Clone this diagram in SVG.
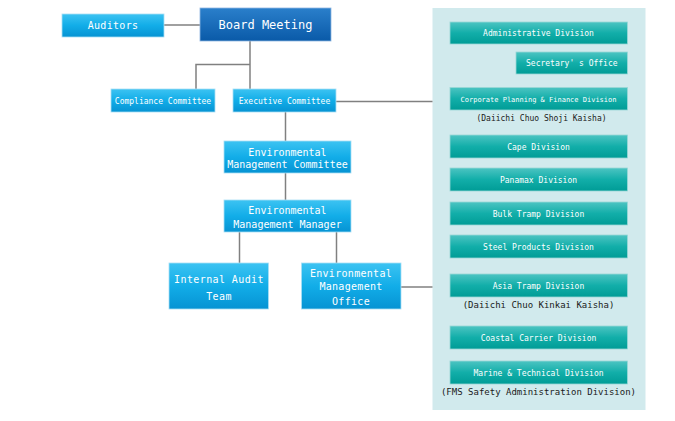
<svg xmlns="http://www.w3.org/2000/svg" width="675" height="421" viewBox="0 0 675 421">
<defs>
<linearGradient id="gBlue" x1="0" y1="0" x2="0" y2="1">
<stop offset="0" stop-color="#3cc3f2"/><stop offset="0.5" stop-color="#12ade8"/><stop offset="1" stop-color="#0693d3"/>
</linearGradient>
<linearGradient id="gDark" x1="0" y1="0" x2="0" y2="1">
<stop offset="0" stop-color="#2a7fcb"/><stop offset="1" stop-color="#0a5aa8"/>
</linearGradient>
<linearGradient id="gTeal" x1="0" y1="0" x2="0" y2="1">
<stop offset="0" stop-color="#4cc4c2"/><stop offset="0.5" stop-color="#12aea9"/><stop offset="1" stop-color="#009c96"/>
</linearGradient>
<style>
.b{fill:url(#gBlue);stroke:#a9dff5;stroke-width:0.8}
.d{fill:url(#gDark);stroke:#8fb6e0;stroke-width:0.8}
.t{fill:url(#gTeal);stroke:#9ad8d6;stroke-width:0.8}
text{font-family:"DejaVu Sans Mono","Liberation Mono",monospace;fill:#ffffff;text-anchor:middle}
.s{fill:#1a1a1a}
.ln{stroke:#808080;stroke-width:1.5;fill:none}
</style>
</defs>
<rect x="432.5" y="8" width="213" height="402" fill="#d1eaed"/>
<g id="connectors">
<line class="ln" x1="164" y1="25" x2="200" y2="25"/>
<polyline class="ln" points="250,41 250,89"/>
<polyline class="ln" points="250,64.5 196,64.5 196,89"/>
<line class="ln" x1="336" y1="101.5" x2="432.5" y2="101.5"/>
<line class="ln" x1="285.5" y1="112" x2="285.5" y2="141"/>
<line class="ln" x1="285.5" y1="173" x2="285.5" y2="200"/>
<line class="ln" x1="239.5" y1="232" x2="239.5" y2="263"/>
<line class="ln" x1="336.5" y1="232" x2="336.5" y2="263"/>
<line class="ln" x1="401" y1="287" x2="432.5" y2="287"/>
</g>
<g id="auditors"><rect class="b" x="62" y="14" width="102" height="23"/><text x="113" y="28.6" font-size="10" letter-spacing="0.3">Auditors</text></g>
<g id="board"><rect class="d" x="200" y="8" width="131" height="33"/><text x="265.5" y="29" font-size="12" letter-spacing="0">Board Meeting</text></g>
<g id="compliance"><rect class="b" x="111" y="89" width="104" height="23"/><text x="163" y="104.3" font-size="8">Compliance Committee</text></g>
<g id="executive"><rect class="b" x="233" y="89" width="103" height="23"/><text x="284.5" y="104.3" font-size="8">Executive Committee</text></g>
<g id="emc"><rect class="b" x="224" y="141" width="127" height="32"/><text x="287.5" y="155.8" font-size="10">Environmental</text><text x="287.5" y="167.8" font-size="10">Management Committee</text></g>
<g id="emm"><rect class="b" x="224" y="200" width="127" height="32"/><text x="287.5" y="213.8" font-size="10">Environmental</text><text x="287.5" y="228" font-size="10">Management Manager</text></g>
<g id="iat"><rect class="b" x="169" y="263" width="99.5" height="46"/><text x="219" y="283" font-size="10" letter-spacing="0.4">Internal Audit</text><text x="219" y="300.4" font-size="10" letter-spacing="0.4">Team</text></g>
<g id="emo"><rect class="b" x="301.5" y="263" width="99.5" height="46"/><text x="351" y="277" font-size="10" letter-spacing="0.3">Environmental</text><text x="351" y="289.7" font-size="10" letter-spacing="0.3">Management</text><text x="351" y="305.3" font-size="10" letter-spacing="0.3">Office</text></g>
<g id="admin"><rect class="t" x="450" y="22" width="177.5" height="22"/><text x="538.5" y="36" font-size="8">Administrative Division</text></g>
<g id="secretary"><rect class="t" x="516" y="52" width="111.5" height="22"/><text x="571.8" y="66" font-size="8">Secretary' s Office</text></g>
<g id="corporate"><rect class="t" x="450" y="87.5" width="177.5" height="22.5"/><text x="538.5" y="101.5" font-size="7">Corporate Planning &amp; Finance Division</text><text class="s" x="541.5" y="121.2" font-size="8">(Daiichi Chuo Shoji Kaisha)</text></g>
<g id="cape"><rect class="t" x="450" y="135" width="177.5" height="23"/><text x="538.5" y="149.5" font-size="8">Cape Division</text></g>
<g id="panamax"><rect class="t" x="450" y="168" width="177.5" height="23"/><text x="538.5" y="182.5" font-size="8">Panamax Division</text></g>
<g id="bulk"><rect class="t" x="450" y="202" width="177.5" height="23"/><text x="538.5" y="216.5" font-size="8">Bulk Tramp Division</text></g>
<g id="steel"><rect class="t" x="450" y="235" width="177.5" height="23"/><text x="538.5" y="249.5" font-size="8">Steel Products Division</text></g>
<g id="asia"><rect class="t" x="450" y="274" width="177.5" height="23"/><text x="538.5" y="288.5" font-size="8">Asia Tramp Division</text><text class="s" x="538.5" y="308.3" font-size="9">(Daiichi Chuo Kinkai Kaisha)</text></g>
<g id="coastal"><rect class="t" x="450" y="326" width="177.5" height="23"/><text x="538.5" y="340.5" font-size="8">Coastal Carrier Division</text></g>
<g id="marine"><rect class="t" x="450" y="361" width="177.5" height="23"/><text x="538.5" y="375.5" font-size="8">Marine &amp; Technical Division</text><text class="s" x="538.5" y="395" font-size="9">(FMS Safety Administration Division)</text></g>
</svg>
